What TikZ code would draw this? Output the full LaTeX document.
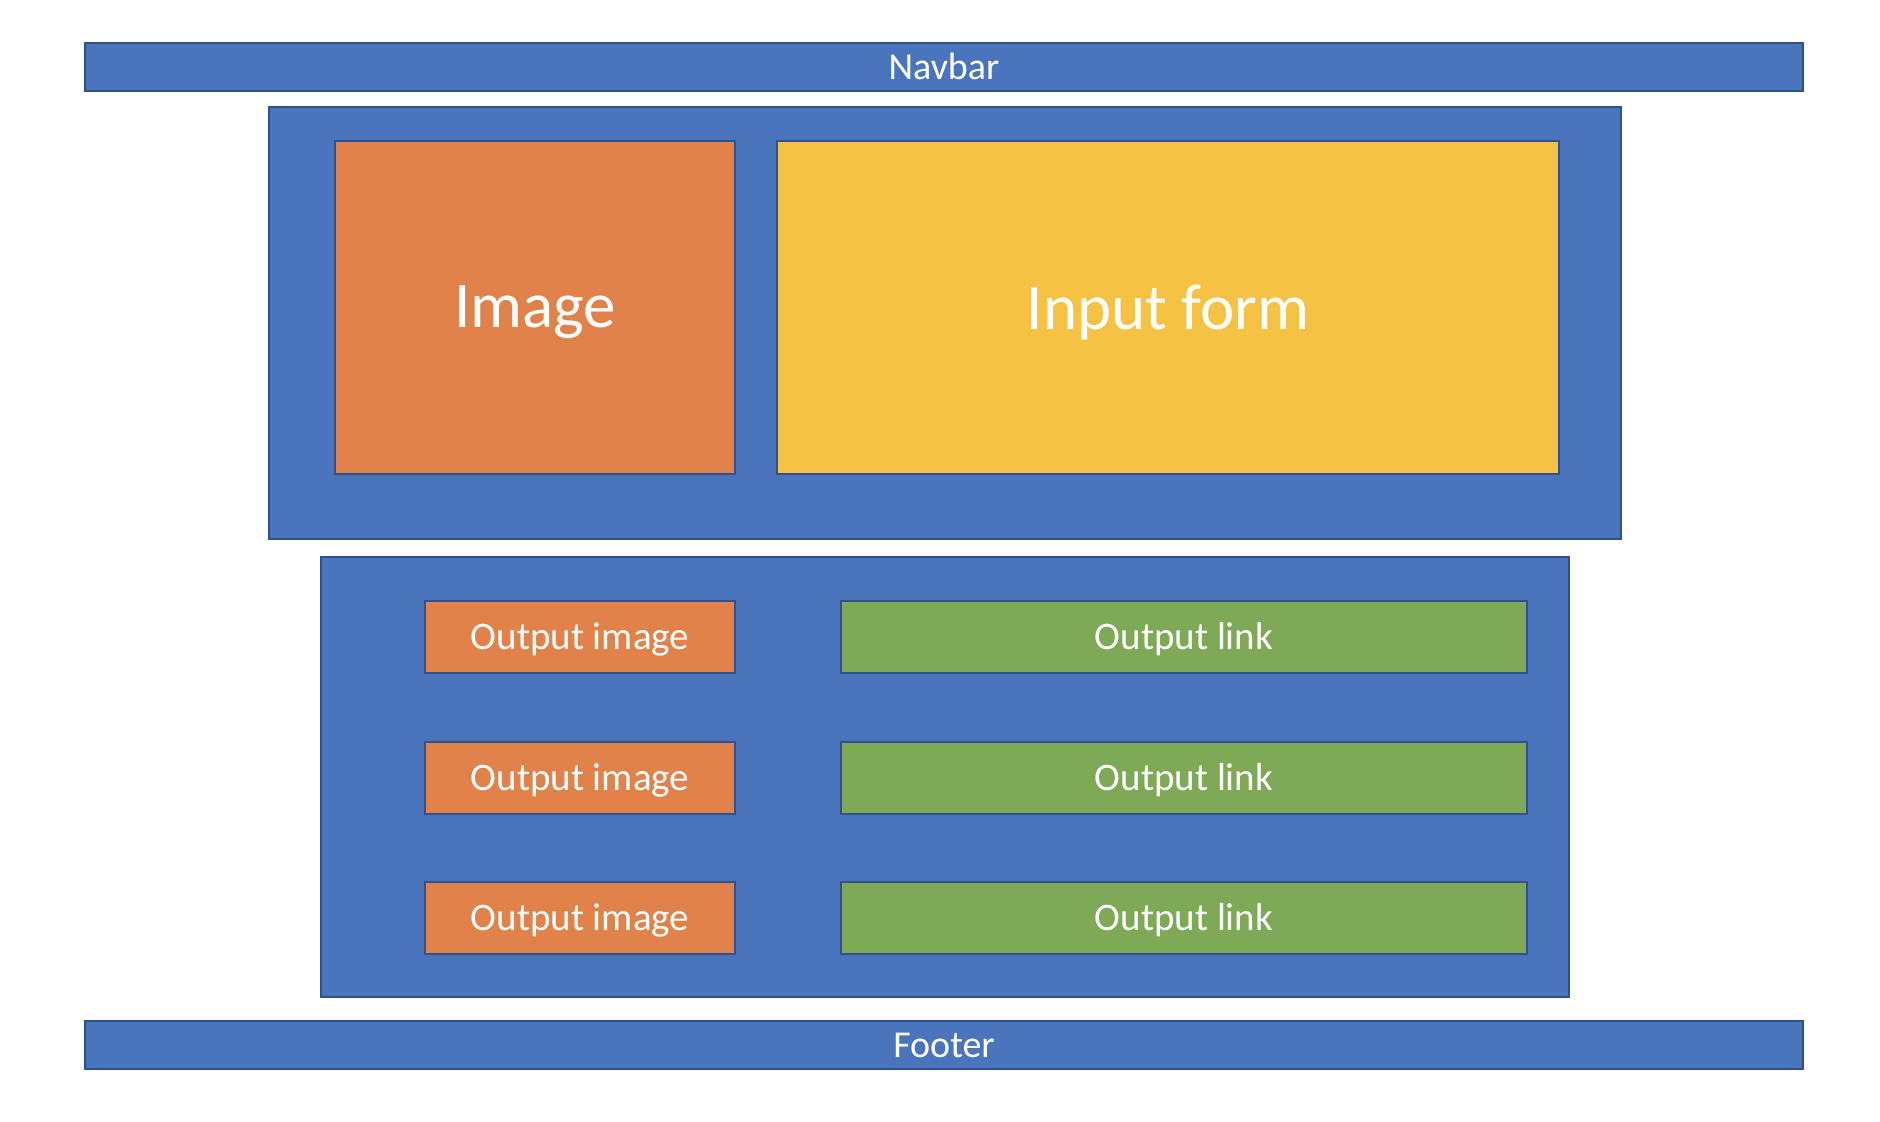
\documentclass[tikz,border=0pt]{standalone}
\usepackage{fontspec}
\setmainfont{Carlito}
\definecolor{cblue}{HTML}{4A75BD}
\definecolor{cborder}{HTML}{2F528F}
\definecolor{corange}{HTML}{E0824A}
\definecolor{cyellow}{HTML}{F6C243}
\definecolor{cgreen}{HTML}{7EA956}
\newcommand{\lowertxt}[2]{\raisebox{-#1}[\height][\depth]{#2}}
\tikzset{
  box/.style={draw=cborder, line width=1.8pt, inner sep=0pt, outer sep=0pt, text=white, align=center},
  bluebox/.style={box, fill=cblue},
  orangebox/.style={box, fill=corange},
  yellowbox/.style={box, fill=cyellow},
  greenbox/.style={box, fill=cgreen},
  bigtxt/.style={font=\fontsize{65}{78}\selectfont},
  midtxt/.style={font=\fontsize{39}{47}\selectfont},
  smalltxt/.style={font=\fontsize{38}{45}\selectfont},
}
\begin{document}
\begin{tikzpicture}[x=1pt,y=-1pt]
\useasboundingbox (0,0) rectangle (1880,1122);
\node[bluebox, smalltxt, minimum width=1718pt, minimum height=48pt] (nav) at (944,67) {\lowertxt{-1pt}{Navbar}};
\node[bluebox, minimum width=1352pt, minimum height=432pt] (top) at (945,323) {};
\node[orangebox, bigtxt, minimum width=400pt, minimum height=333pt] (img) at (535,307.5) {\lowertxt{5pt}{Image}};
\node[yellowbox, bigtxt, minimum width=782pt, minimum height=333pt] (form) at (1168,307.5) {\lowertxt{5pt}{Input form}};
\node[bluebox, minimum width=1248pt, minimum height=440pt] (bottom) at (945,777) {};
\foreach \i/\y in {1/637,2/778,3/918} {
  \node[orangebox, midtxt, minimum width=310pt, minimum height=72pt] (oimg\i) at (580,\y) {\lowertxt{2pt}{Output image}};
  \node[greenbox, midtxt, minimum width=686pt, minimum height=72pt] (olink\i) at (1184,\y) {\lowertxt{2pt}{Output link}};
}
\node[bluebox, smalltxt, minimum width=1718pt, minimum height=48pt] (foot) at (944,1045) {Footer};
\end{tikzpicture}
\end{document}
